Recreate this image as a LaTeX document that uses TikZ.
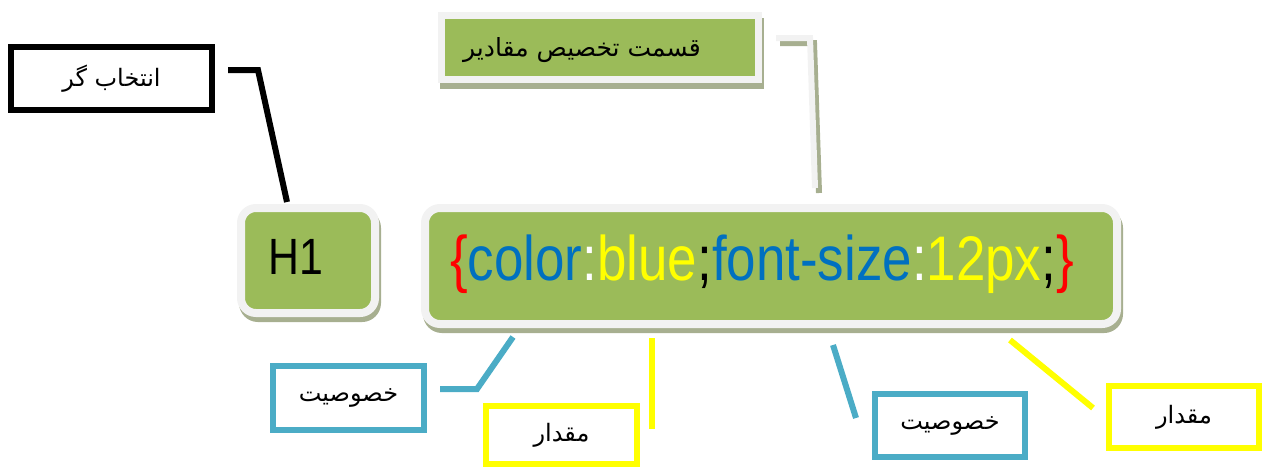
\documentclass[tikz,border=0pt]{standalone}
\usepackage{fontspec}
\usepackage{graphicx}
\usetikzlibrary{shadows}
\setmainfont{Liberation Sans}
\newfontfamily\arabicfont[Script=Arabic]{DejaVu Sans}
\TeXXeTstate=1
\definecolor{boxgreen}{HTML}{9BBB59}
\definecolor{lightrim}{HTML}{F2F2F2}
\definecolor{shadowc}{HTML}{A7AF90}
\definecolor{propblue}{HTML}{4BACC6}
\definecolor{valyellow}{HTML}{FFFF00}
\definecolor{codeblue}{HTML}{0070C0}
\tikzset{
  greenround/.style={draw=lightrim, fill=boxgreen, line width=8pt, rounded corners=15pt, inner sep=0pt,
    general shadow={fill=shadowc, draw=shadowc, line width=8pt, shadow xshift=2pt, shadow yshift=-5pt}},
  greensquare/.style={draw=lightrim, fill=boxgreen, line width=7pt, inner sep=0pt,
    general shadow={fill=shadowc, draw=shadowc, line width=7pt, shadow xshift=2pt, shadow yshift=-6pt}},
  labelbox/.style={line width=6pt, fill=white, inner sep=0pt, font=\arabicfont\fontsize{24}{28}\selectfont},
  connector/.style={line width=6pt},
}
\newcommand{\rtl}[1]{\beginR #1\endR}
\begin{document}
\begin{tikzpicture}[x=1pt,y=-1pt]
\useasboundingbox (0,0) rectangle (1263,469);
% main boxes
\node[greenround, minimum width=134pt, minimum height=105pt] (h1) at (308,260.5) {};
\node[font=\fontsize{51}{60}\selectfont, anchor=base] (h1txt) at (296,274) {\scalebox{0.84}[1]{H1}};
\node[greenround, minimum width=692pt, minimum height=116pt] (code) at (771,266) {};
\node[font=\fontsize{63}{70}\selectfont, anchor=base, inner sep=0pt] (codetxt) at (762,280)
  {\scalebox{0.84}[1]{\textcolor{red}{\{}\textcolor{codeblue}{color}\textcolor{white}{:}\textcolor{valyellow}{blue}\textcolor{black}{;}\textcolor{codeblue}{font-size}\textcolor{white}{:}\textcolor{valyellow}{12px}\textcolor{black}{;}\textcolor{red}{\}}}};
\node[greensquare, minimum width=317pt, minimum height=64pt] (values) at (600,47.5) {};
\node[font=\arabicfont\fontsize{25}{30}\selectfont] (valtxt) at (582,50) {\rtl{قسمت تخصیص مقادیر}};
% label boxes
\node[labelbox, draw=black, minimum width=201pt, minimum height=63pt] (sel) at (111.5,78.5) {\rtl{انتخاب گر}};
\node[labelbox, draw=propblue, minimum width=151pt, minimum height=64pt] (prop1) at (348.5,398) {\rtl{خصوصیت}};
\node[labelbox, draw=valyellow, minimum width=151pt, minimum height=58pt] (val1) at (561.5,435) {\rtl{مقدار}};
\node[labelbox, draw=propblue, minimum width=150pt, minimum height=63pt] (prop2) at (950,425.5) {\rtl{خصوصیت}};
\node[labelbox, draw=valyellow, minimum width=150pt, minimum height=62pt] (val2) at (1184,417) {\rtl{مقدار}};
% connector points
\coordinate (s1) at (228,70); \coordinate (s2) at (258,70); \coordinate (s3) at (287,202);
\coordinate (v1) at (776,38); \coordinate (v2) at (810,38); \coordinate (v3) at (815,188);
\coordinate (p1) at (440,389); \coordinate (p2) at (477,389); \coordinate (p3) at (513,337);
\coordinate (y1) at (652,338); \coordinate (y2) at (652,429);
\coordinate (q1) at (833,345); \coordinate (q2) at (856,418);
\coordinate (w1) at (1010,340); \coordinate (w2) at (1093,408);
% connectors
\draw[connector, black] (s1) -- (s2) -- (s3);
\draw[connector, shadowc] ([shift={(4,5)}]v1) -- ([shift={(4,5)}]v2) -- ([shift={(4,5)}]v3);
\draw[connector, lightrim] (v1) -- (v2) -- (v3);
\draw[connector, propblue] (p1) -- (p2) -- (p3);
\draw[connector, valyellow] (y1) -- (y2);
\draw[connector, propblue] (q1) -- (q2);
\draw[connector, valyellow] (w1) -- (w2);
\end{tikzpicture}
\end{document}
